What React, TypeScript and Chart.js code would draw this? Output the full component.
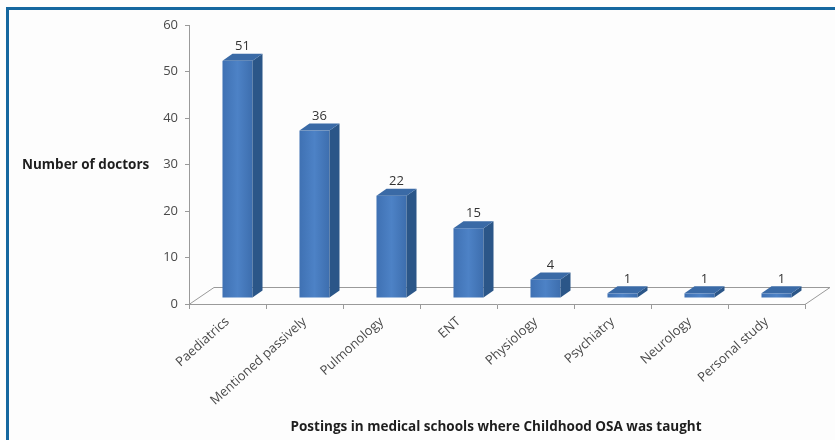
import React, { useEffect, useRef } from "react";
import { Chart, registerables } from "chart.js";

Chart.register(...registerables);

const categories = [
  "Paediatrics",
  "Mentioned passively",
  "Pulmonology",
  "ENT",
  "Physiology",
  "Psychiatry",
  "Neurology",
  "Personal study",
];
const doctors = [51, 36, 22, 15, 4, 1, 1, 1];
const yTicks = [0, 10, 20, 30, 40, 50, 60];
const yTitle = "Number of doctors";
const xTitle = "Postings in medical schools where Childhood OSA was taught";

const FONT = "'Open Sans', 'DejaVu Sans', sans-serif";

const bars3d = {
  id: "bars3d",
  beforeDraw(chart: any) {
    const ctx = chart.ctx;
    ctx.save();
    ctx.fillStyle = "#fdfdfd";
    ctx.fillRect(0, 0, chart.width, chart.height);
    // frame (top and left only)
    ctx.fillStyle = "#15679f";
    ctx.fillRect(6, 7, chart.width - 6, 3);
    ctx.fillRect(6, 7, 3, chart.height - 7);
    ctx.restore();
  },
  beforeDatasetsDraw(chart: any) {
    const ctx = chart.ctx;
    const a = chart.chartArea;
    const fx = 25, fy = -17;
    ctx.save();
    ctx.strokeStyle = "#9a9a9a";
    ctx.lineWidth = 1;
    ctx.beginPath();
    ctx.moveTo(a.left, a.bottom + 0.5);
    ctx.lineTo(a.left + fx, a.bottom + fy + 0.5);
    ctx.lineTo(a.right + fx, a.bottom + fy + 0.5);
    ctx.lineTo(a.right, a.bottom + 0.5);
    ctx.stroke();
    ctx.restore();
  },
  afterDatasetsDraw(chart: any) {
    const ctx = chart.ctx;
    const meta = chart.getDatasetMeta(0);
    const ox = 10, oy = -6, dx = 10, dy = -7;
    ctx.save();
    meta.data.forEach((el: any, i: number) => {
      const { x, y, base, width } = el.getProps(["x", "y", "base", "width"], true);
      const x0 = x - width / 2 + ox;
      const x1 = x + width / 2 + ox;
      const yt = y + oy;
      const yb = base + oy;
      // front face
      const g = ctx.createLinearGradient(x0, 0, x1, 0);
      g.addColorStop(0, "#3f71b3");
      g.addColorStop(0.5, "#4d82c6");
      g.addColorStop(1, "#3d6eae");
      ctx.fillStyle = g;
      ctx.fillRect(x0, yt, x1 - x0, yb - yt);
      // side face
      ctx.fillStyle = "#2b5688";
      ctx.beginPath();
      ctx.moveTo(x1, yt);
      ctx.lineTo(x1 + dx, yt + dy);
      ctx.lineTo(x1 + dx, yb + dy);
      ctx.lineTo(x1, yb);
      ctx.closePath();
      ctx.fill();
      // top face
      ctx.fillStyle = "#3a6aa6";
      ctx.beginPath();
      ctx.moveTo(x0, yt);
      ctx.lineTo(x1, yt);
      ctx.lineTo(x1 + dx, yt + dy);
      ctx.lineTo(x0 + dx, yt + dy);
      ctx.closePath();
      ctx.fill();
      // label
      ctx.fillStyle = "#333333";
      ctx.font = `13px ${FONT}`;
      ctx.textAlign = "center";
      ctx.textBaseline = "bottom";
      ctx.fillText(String(doctors[i]), (x0 + x1 + dx) / 2, yt + dy - 1);
    });
    ctx.restore();
  },
  afterDraw(chart: any) {
    const ctx = chart.ctx;
    ctx.save();
    ctx.fillStyle = "#1e1e1e";
    ctx.font = `bold 13.5px ${FONT}`;
    ctx.textBaseline = "middle";
    ctx.textAlign = "left";
    ctx.fillText(yTitle, 22, 165);
    ctx.textAlign = "center";
    ctx.fillText(xTitle, 496, 427);
    ctx.restore();
  },
};

export default function App() {
  const ref = useRef<HTMLCanvasElement>(null);
  useEffect(() => {
    if (!ref.current) return;
    const chart = new Chart(ref.current, {
      type: "bar",
      data: {
        labels: categories,
        datasets: [
          {
            data: doctors,
            backgroundColor: "rgba(0,0,0,0)",
            borderWidth: 0,
            categoryPercentage: 1,
            barPercentage: 0.39,
          },
        ],
      },
      options: {
        responsive: false,
        animation: false,
        layout: { padding: { left: 149, right: 30, top: 25, bottom: 0 } },
        plugins: { legend: { display: false }, tooltip: { enabled: false } },
        scales: {
          x: {
            grid: { drawOnChartArea: false, tickLength: 5, color: "#9a9a9a", offset: true },
            border: { color: "#9a9a9a" },
            ticks: {
              minRotation: 42,
              maxRotation: 42,
              autoSkip: false,
              padding: 5,
              color: "#4a4a4a",
              font: { family: FONT, size: 13 },
            },
            afterFit: (s: any) => {
              s.height = 136;
            },
          },
          y: {
            min: 0,
            max: 60,
            afterBuildTicks: (s: any) => {
              s.ticks = yTicks.map((v) => ({ value: v }));
            },
            grid: { drawOnChartArea: false, tickLength: 4, color: "#9a9a9a" },
            border: { color: "#9a9a9a" },
            ticks: {
              padding: 7,
              color: "#4a4a4a",
              font: { family: FONT, size: 13 },
            },
            afterFit: (s: any) => {
              s.width = 40;
            },
          },
        },
      },
      plugins: [bars3d],
    });
    return () => chart.destroy();
  }, []);
  return (
    <div style={{ position: "absolute", left: 0, top: 0, width: 835, height: 440 }}>
      <canvas ref={ref} width={835} height={440} />
    </div>
  );
}
